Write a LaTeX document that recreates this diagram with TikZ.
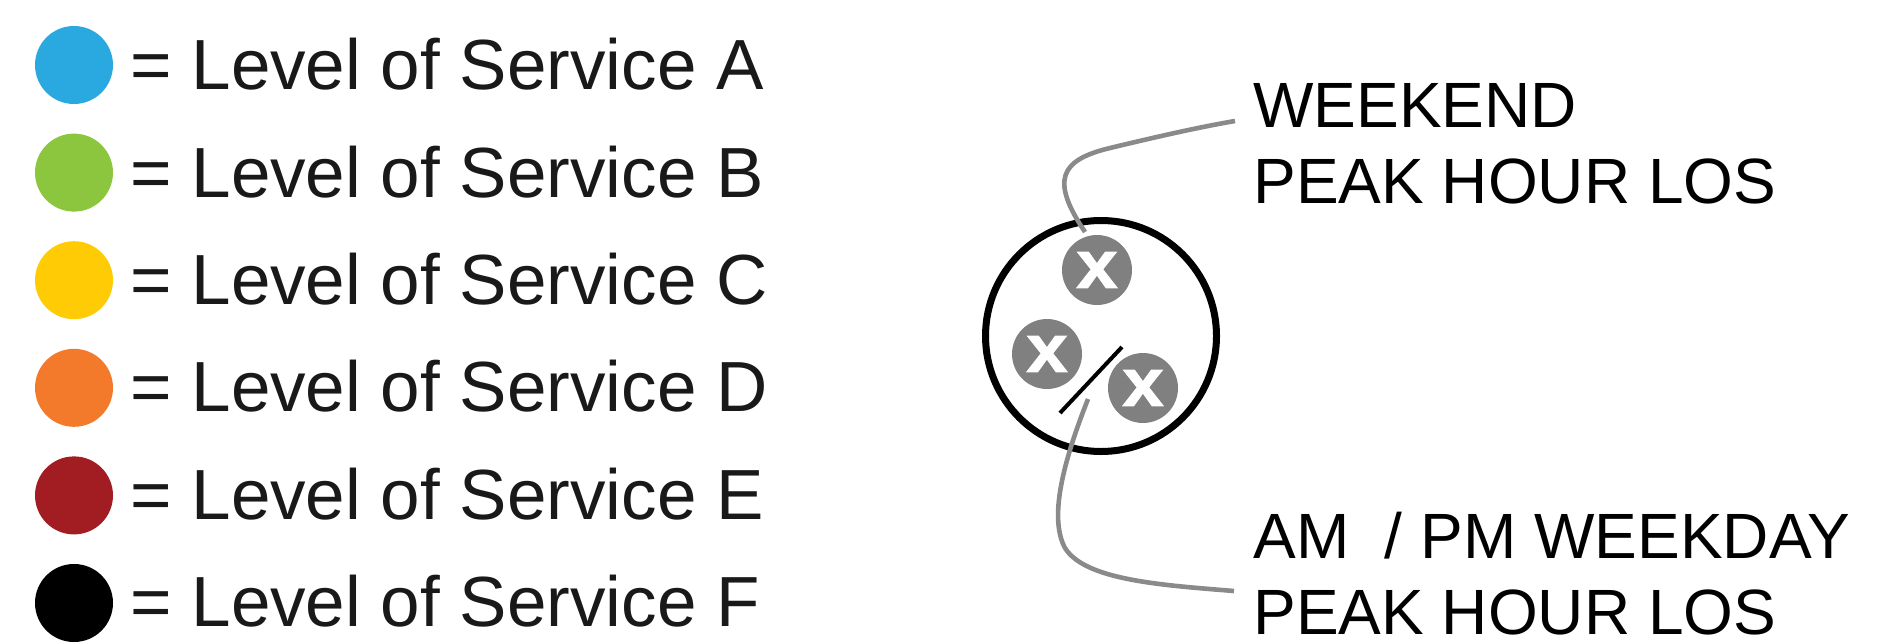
\documentclass[tikz,border=0pt]{standalone}
\usepackage{fontspec}
\setmainfont{Liberation Sans}
\newfontfamily\xfont{Liberation Sans Bold}[FakeBold=1.2]
\begin{document}
\begin{tikzpicture}[x=0.5pt,y=-0.5pt,
  dot/.style={circle,inner sep=0pt,minimum size=39pt},
  legtxt/.style={anchor=base west,inner sep=0pt,text=black!90,font=\fontsize{35.5}{40}\selectfont},
  lbl/.style={anchor=base west,inner sep=0pt,text=black,text depth=0pt,font=\fontsize{32}{36}\selectfont},
  xdot/.style={circle,fill=xgray,inner sep=0pt,minimum size=35pt},
  xmark/.style={inner sep=0pt,text=white,xscale=1.1,font=\xfont\fontsize{34}{36}\selectfont},
  lead/.style={draw=leadgray,line width=2.3pt}]
\definecolor{losA}{HTML}{2AA9E0}
\definecolor{losB}{HTML}{8CC63E}
\definecolor{losC}{HTML}{FFCB05}
\definecolor{losD}{HTML}{F47A2B}
\definecolor{losE}{HTML}{A11D21}
\definecolor{losF}{HTML}{000000}
\definecolor{xgray}{HTML}{808080}
\definecolor{leadgray}{HTML}{8A8A8A}
\useasboundingbox (0,0) rectangle (1894,642);
% legend
\foreach \c/\i in {A/0,B/1,C/2,D/3,E/4,F/5}{
  \node[dot,fill=los\c] (dot\c) at (74,{65+107.6*\i}) {};
  \node[legtxt] (txt\c) at (130,{90+107.3*\i}) {= Level of Service \c};
}
% symbol
\node[circle,draw=black,line width=3.5pt,inner sep=0pt,minimum size=115.5pt] (ring) at (1101,336) {};
\node[xdot] (wx) at (1097,270) {};
\node[xdot] (ax) at (1047,354) {};
\node[xdot] (px) at (1143,388) {};
\node[xmark] (wxm) at (wx) {x};
\node[xmark] (axm) at (ax) {x};
\node[xmark] (pxm) at (px) {x};
\coordinate (s1) at (1060,413);
\coordinate (s2) at (1122,347);
\draw[line width=2pt] (s1) -- (s2);
% labels
\node[lbl] (wk1) at (1253,127) {WEEKEND};
\node[lbl] (wk2) at (1253,203) {PEAK HOUR LOS};
\node[lbl] (am1) at (1253,558) {AM\ \ / PM WEEKDAY};
\node[lbl] (am2) at (1253,634) {PEAK HOUR LOS};
% leaders
\coordinate (wkS) at (1085,232);
\coordinate (wkE) at (1235,121);
\coordinate (amS) at (1088,399);
\coordinate (amE) at (1234,591);
\draw[lead] (wkS) .. controls (1050,180) and (1060,160) .. (1110,148)
  .. controls (1160,136) and (1200,127) .. (wkE);
\draw[lead] (amS) .. controls (1060,470) and (1050,520) .. (1065,548)
  .. controls (1085,580) and (1160,585) .. (amE);
\end{tikzpicture}
\end{document}
